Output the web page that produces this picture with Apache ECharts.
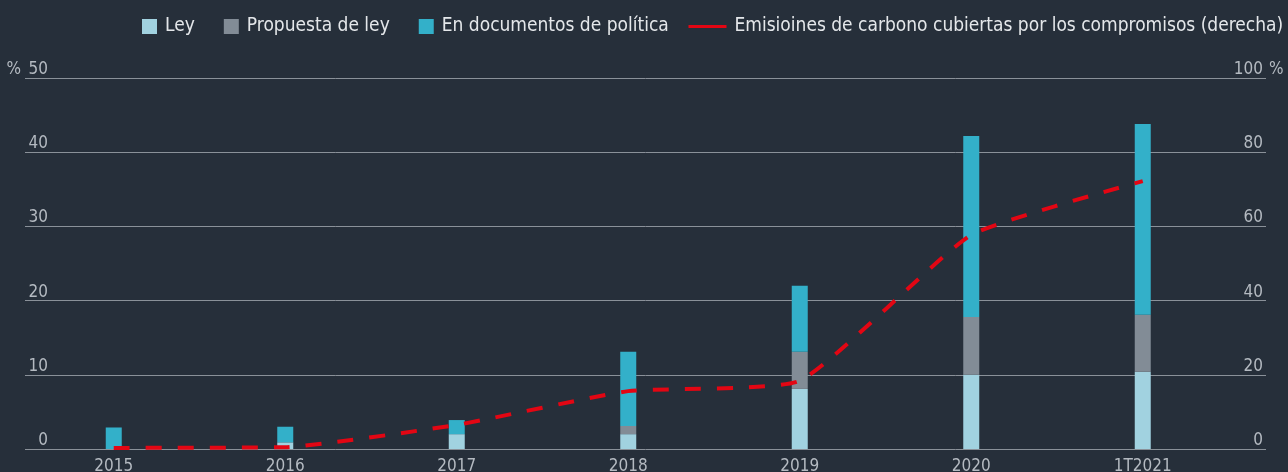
<!DOCTYPE html>
<html>
<head>
<meta charset="utf-8">
<style>
  html, body { margin: 0; padding: 0; background: #262f3a; }
  #chart { width: 1288px; height: 472px; }
</style>
<script src="https://cdn.jsdelivr.net/npm/echarts@6/dist/echarts.min.js"></script>
</head>
<body>
<div id="chart"></div>
<script>
// datos
const categories = ['2015', '2016', '2017', '2018', '2019', '2020', '1T2021']
const ley = [0, 0.9, 2.0, 2.0, 8.1, 10.0, 10.4]
const propuesta = [0, 0, 0, 1.1, 5.0, 7.8, 7.7]
const documentos = [2.9, 2.1, 1.9, 10.0, 8.9, 24.4, 25.7]
const emisiones = [0.3, 0.5, 6.5, 15.6, 18.4, 57.7, 72.2]

const names = ['Ley', 'Propuesta de ley', 'En documentos de política',
    'Emisioines de carbono cubiertas por los compromisos (derecha)']
const colors = ['#a1d2e0', '#828c96', '#33b0c9', '#e30613']

const FONT = "'Liberation Sans Narrow', 'DejaVu Sans Condensed', 'Roboto', sans-serif"
const labelColor = '#b4bac1'

const chart = echarts.init(document.getElementById('chart'))

const barSeries = [ley, propuesta, documentos].map((d, i) => ({
    name: names[i],
    type: 'bar',
    stack: 'total',
    xAxisIndex: 0,
    yAxisIndex: 0,
    barWidth: 16,
    itemStyle: { color: colors[i] },
    data: d,
}))

const legendText = { color: '#e4e7ea', fontSize: 19, fontFamily: FONT, padding: [0, 0, 0, 3] }

chart.setOption({
    backgroundColor: '#262f3a',
    textStyle: { fontFamily: FONT },
    legend: [
        {
            left: 142,
            top: 17,
            padding: 0,
            itemWidth: 15,
            itemHeight: 15,
            itemGap: 29,
            icon: 'rect',
            textStyle: legendText,
            data: names.slice(0, 3),
        },
        {
            left: 687,
            top: 17,
            padding: 0,
            itemWidth: 38,
            itemHeight: 15,
            textStyle: legendText,
            data: [{ name: names[3], itemStyle: { opacity: 0 }, lineStyle: { type: 'solid', width: 3 } }],
        },
    ],
    grid: [
        //barras y línea
        { left: 28, right: 59.5, top: 78, bottom: 23, outerBoundsMode: 'none' },
        //ejes y líneas de referencia
        { left: 25, right: 22, top: 78, bottom: 23, outerBoundsMode: 'none' },
    ],
    xAxis: [
        {
            type: 'category',
            gridIndex: 0,
            data: categories,
            axisLine: { show: false },
            axisTick: { show: false },
            axisLabel: { color: labelColor, fontSize: 17, margin: 9, fontFamily: FONT },
        },
        { type: 'value', gridIndex: 1, show: false },
    ],
    yAxis: [
        { type: 'value', gridIndex: 0, min: 0, max: 50, show: false },
        { type: 'value', gridIndex: 0, min: 0, max: 100, show: false },
        {
            type: 'value',
            gridIndex: 1,
            position: 'left',
            min: 0,
            max: 50,
            interval: 10,
            name: '%',
            nameLocation: 'end',
            nameGap: 0,
            nameTextStyle: { color: labelColor, fontSize: 17, align: 'right', verticalAlign: 'bottom', padding: [0, 4, 0, 0] },
            axisLine: { show: false },
            axisTick: { show: false },
            axisLabel: { inside: true, align: 'right', verticalAlign: 'bottom', margin: 23, color: labelColor, fontSize: 17 },
            splitLine: { lineStyle: { color: '#8a9199', width: 1 } },
        },
        {
            type: 'value',
            gridIndex: 1,
            position: 'right',
            min: 0,
            max: 100,
            interval: 20,
            name: '%',
            nameLocation: 'end',
            nameGap: 0,
            nameTextStyle: { color: labelColor, fontSize: 17, align: 'left', verticalAlign: 'bottom', padding: [0, 0, 0, 3] },
            axisLine: { show: false },
            axisTick: { show: false },
            axisLabel: { inside: true, align: 'right', verticalAlign: 'bottom', margin: 3, color: labelColor, fontSize: 17 },
            splitLine: { show: false },
        },
    ],
    series: [
        ...barSeries,
        {
            name: names[3],
            type: 'line',
            xAxisIndex: 0,
            yAxisIndex: 1,
            data: emisiones,
            smooth: 0.15,
            showSymbol: false,
            symbol: 'none',
            z: 5,
            itemStyle: { color: colors[3] },
            lineStyle: { color: colors[3], width: 4, type: [16, 16] },
        },
    ],
})
</script>
</body>
</html>
